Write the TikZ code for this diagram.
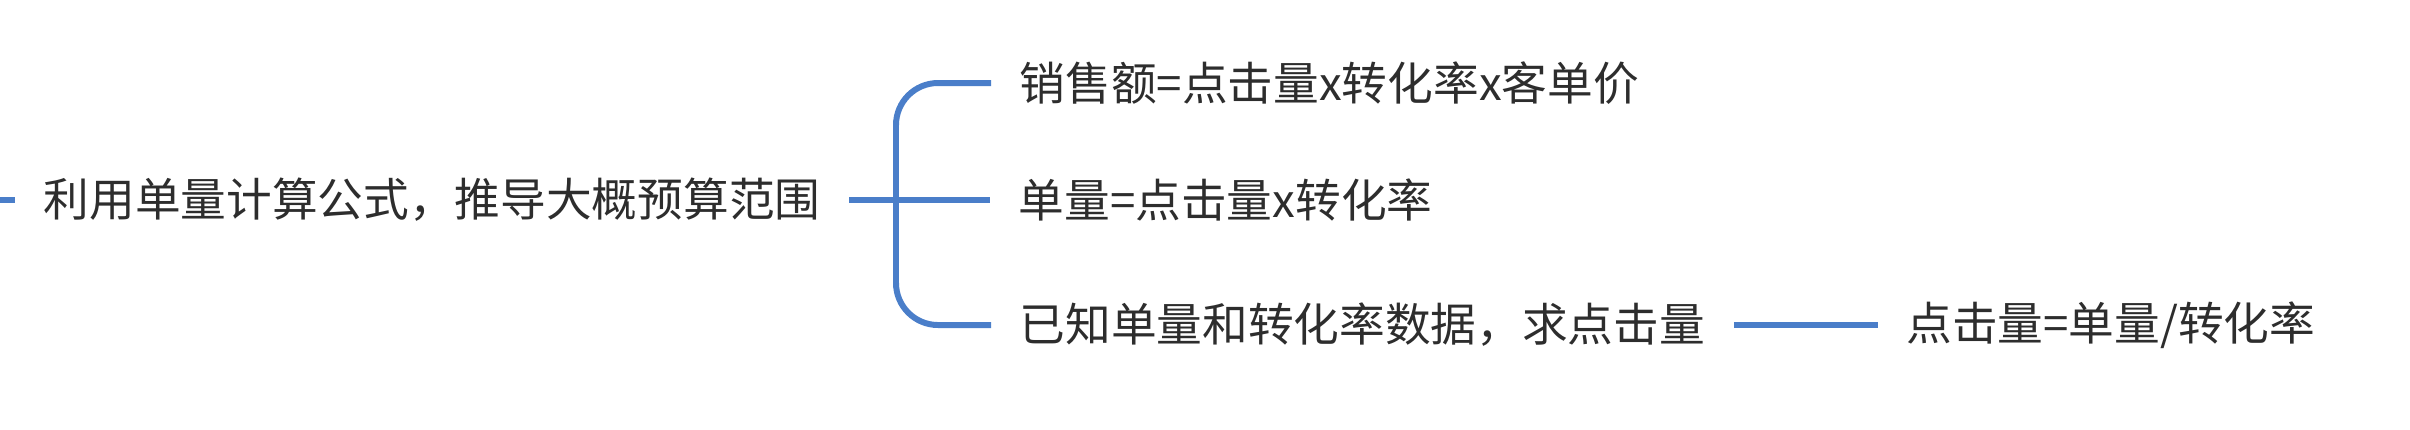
\documentclass[tikz,border=0pt]{standalone}
\usepackage{fontspec}
\setmainfont{Noto Sans CJK SC}
\usetikzlibrary{positioning}
\definecolor{branchblue}{RGB}{74,126,201}
\definecolor{textgray}{RGB}{45,45,45}
\tikzset{
    topic/.style={inner xsep=0.28cm, inner ysep=0pt, anchor=west, text=textgray, font=\fontsize{13pt}{15pt}\selectfont},
    branch/.style={draw=branchblue, line width=1.7pt}
}
\begin{document}
\begin{tikzpicture}
        \useasboundingbox (0, 0) rectangle (24.1, -4.29);

        % Draw the main topic and its incoming line
        \coordinate (start) at (0, -2);
        \node[topic] (root) at (0.15, -2) {利用单量计算公式，推导大概预算范围};
        \draw[branch] (start) -- (root.west);

        % Draw the three sub topics
        \node[topic] (sales) at (9.91, -0.83) {销售额=点击量x转化率x客单价};
        \node[topic, right=1.41cm of root] (orders) {单量=点击量x转化率};
        \node[topic] (clicks) at (9.91, -3.25) {已知单量和转化率数据，求点击量};

        % Draw the bracket from the main topic
        \coordinate (fork) at (8.96, -2);
        \draw[branch] (root.east) -- (orders.west);
        \draw[branch, rounded corners=0.42cm] (sales.west) -| (fork) |- (clicks.west);

        % Draw the answer for the last sub topic
        \node[topic, right=1.44cm of clicks] (answer) {点击量=单量/转化率};
        \draw[branch] (clicks.east) -- (answer.west);
    \end{tikzpicture}
\end{document}
